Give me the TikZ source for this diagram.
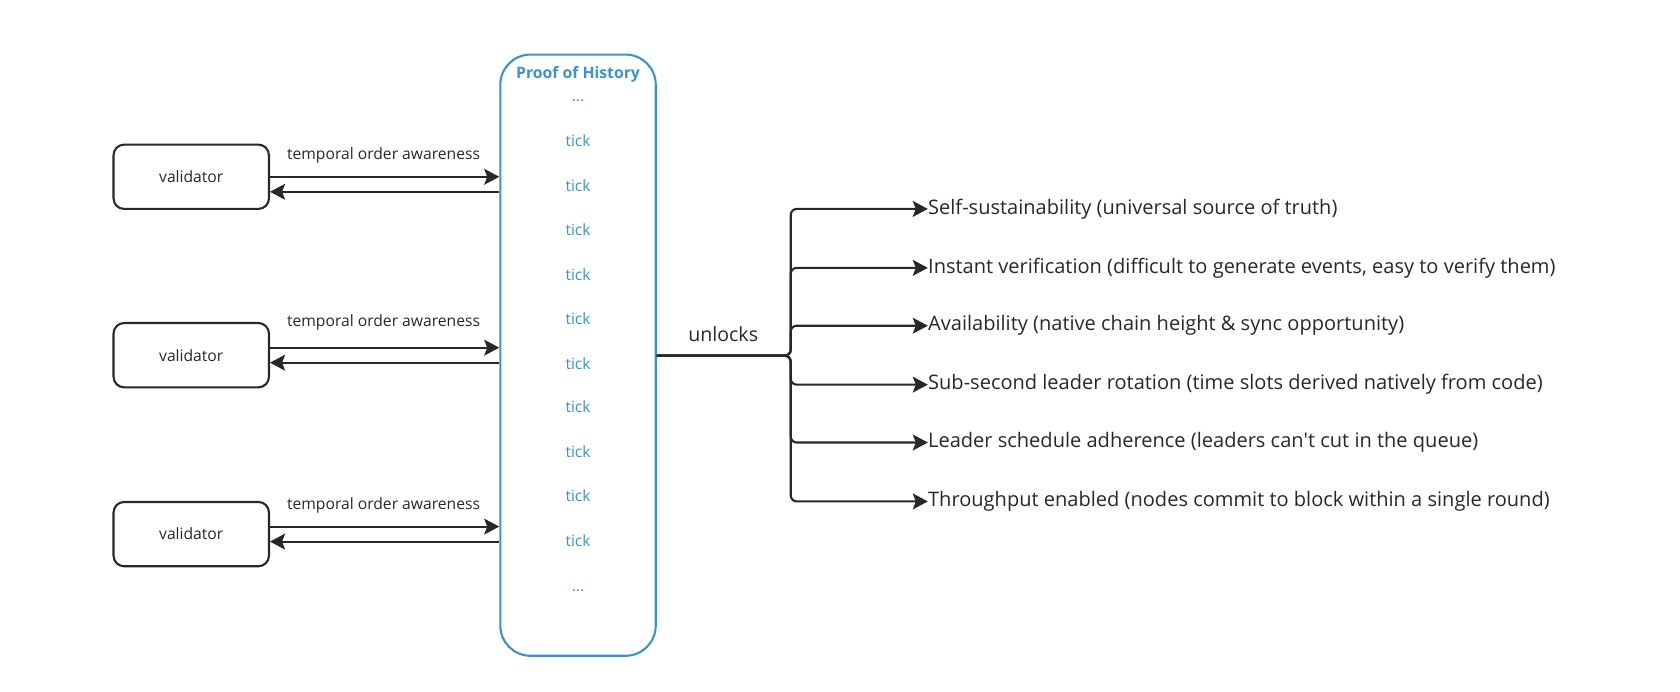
\documentclass[tikz,border=0pt]{standalone}
\usepackage{fontspec}
\setmainfont{Open Sans}
\usepackage{tikz}
\usetikzlibrary{arrows.meta}
\definecolor{pohblue}{RGB}{58,146,212}
\definecolor{ink}{RGB}{40,40,40}
\tikzstyle{validator} = [
	rectangle,
	rounded corners=7pt,
	minimum width=3.625cm,
	minimum height=1.5cm,
	text centered,
	draw=ink,
	line width=1.4pt,
	text=ink,
	font=\fontsize{10.4}{12}\selectfont
]
\tikzstyle{chain} = [
	rectangle,
	rounded corners=20pt,
	minimum width=3.625cm,
	minimum height=14.025cm,
	draw=pohblue,
	line width=1.4pt
]
\tikzstyle{tick} = [text=pohblue, font=\fontsize{10.3}{12}\selectfont]
\tikzstyle{benefit} = [anchor=west, inner sep=0pt, text=ink, font=\fontsize{13.3}{16}\selectfont]
\tikzstyle{label} = [text=ink, font=\fontsize{10.4}{12}\selectfont]
\tikzstyle{arrow} = [line width=1.4pt, draw=ink, ->, >={Stealth[length=10pt, width=10.5pt, inset=2pt]}]

\begin{document}
\begin{tikzpicture}[x=0.025cm, y=-0.025cm]
            \useasboundingbox (0,0) rectangle (1568,645);
            \node (val1) [validator] at (178.5,165) {validator};
            \node (val2) [validator] at (178.5,331.5) {validator};
            \node (val3) [validator] at (178.5,498.5) {validator};
            \node (poh) [chain] at (539.5,331.5) {};
            \node (title) [tick, font=\fontsize{10.45}{12}\selectfont\bfseries] at (539.5,69) {Proof of History};
            \node (dots1) [tick] at (539.5,94) {...};
            \node (tick1) [tick] at (539.5,131) {tick};
            \node (tick2) [tick] at (539.5,173) {tick};
            \node (tick3) [tick] at (539.5,214) {tick};
            \node (tick4) [tick] at (539.5,256) {tick};
            \node (tick5) [tick] at (539.5,297) {tick};
            \node (tick6) [tick] at (539.5,339) {tick};
            \node (tick7) [tick] at (539.5,380) {tick};
            \node (tick8) [tick] at (539.5,422) {tick};
            \node (tick9) [tick] at (539.5,463) {tick};
            \node (tick10) [tick] at (539.5,505) {tick};
            \node (dots2) [tick] at (539.5,551) {...};
            % validators <-> proof of history
            \node (aware1) [label] at (358,145) {temporal order awareness};
            \node (aware2) [label] at (358,301) {temporal order awareness};
            \node (aware3) [label] at (358,472) {temporal order awareness};
            \draw [arrow] (val1.east) -- (val1.east -| poh.west);
            \draw [arrow] ([yshift=-14*0.025cm]poh.west |- val1.east) -- ([yshift=-14*0.025cm]val1.east);
            \draw [arrow] ([yshift=7*0.025cm]val2.east) -- ([yshift=7*0.025cm]val2.east -| poh.west);
            \draw [arrow] ([yshift=-7*0.025cm]poh.west |- val2.east) -- ([yshift=-7*0.025cm]val2.east);
            \draw [arrow] ([yshift=7*0.025cm]val3.east) -- ([yshift=7*0.025cm]val3.east -| poh.west);
            \draw [arrow] ([yshift=-7*0.025cm]poh.west |- val3.east) -- ([yshift=-7*0.025cm]val3.east);
            % what it unlocks
            \coordinate (fork) at (738,332);
            \node (unlocks) [label, font=\fontsize{13}{15}\selectfont] at (675,312) {unlocks};
            \node (self) [benefit] at (866,195) {Self-sustainability (universal source of truth)};
            \node (instant) [benefit] at (866,250) {Instant verification (difficult to generate events, easy to verify them)};
            \node (avail) [benefit] at (866,304) {Availability (native chain height \& sync opportunity)};
            \node (rotation) [benefit] at (866,359) {Sub-second leader rotation (time slots derived natively from code)};
            \node (schedule) [benefit] at (866,413) {Leader schedule adherence (leaders can\textquotesingle t cut in the queue)};
            \node (through) [benefit] at (866,468) {Throughput enabled (nodes commit to block within a single round)};
            \draw [arrow, rounded corners=4pt] (poh.east |- fork) -| (fork |- self.west) -- (self.west);
            \draw [arrow, rounded corners=4pt] (poh.east |- fork) -| (fork |- instant.west) -- (instant.west);
            \draw [arrow, rounded corners=4pt] (poh.east |- fork) -| (fork |- avail.west) -- (avail.west);
            \draw [arrow, rounded corners=4pt] (poh.east |- fork) -| (fork |- rotation.west) -- (rotation.west);
            \draw [arrow, rounded corners=4pt] (poh.east |- fork) -| (fork |- schedule.west) -- (schedule.west);
            \draw [arrow, rounded corners=4pt] (poh.east |- fork) -| (fork |- through.west) -- (through.west);
          \end{tikzpicture}
\end{document}
